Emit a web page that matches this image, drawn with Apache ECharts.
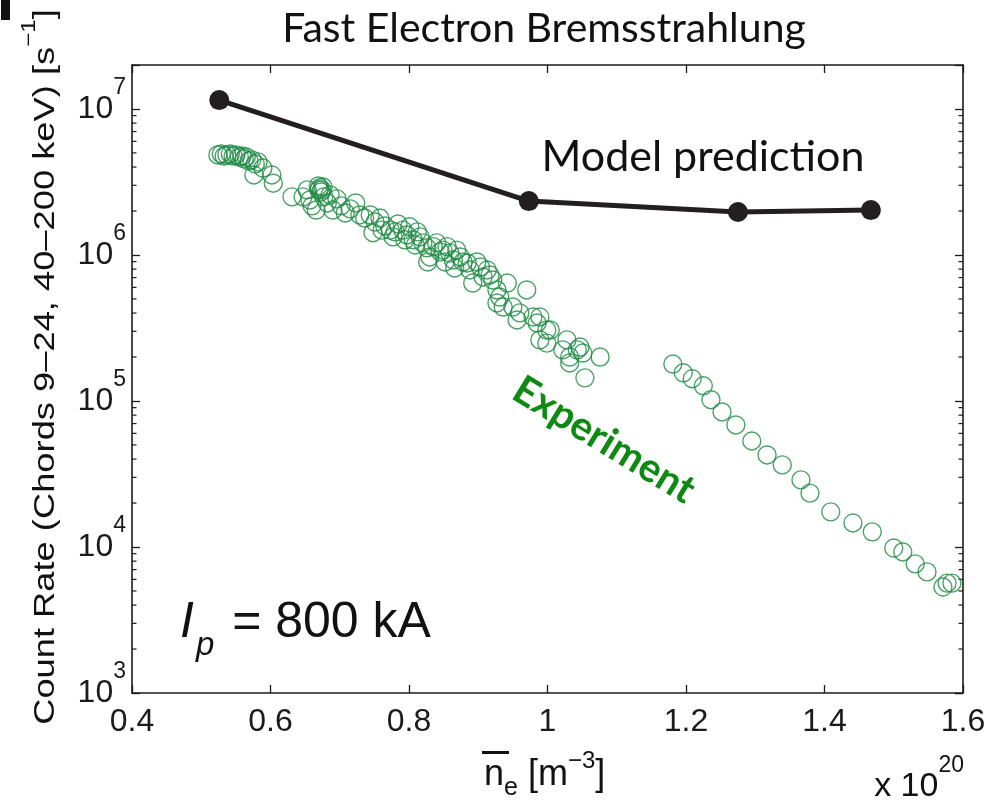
<!DOCTYPE html>
<html>
<head>
<meta charset="utf-8">
<script src="https://cdn.jsdelivr.net/npm/echarts@6/dist/echarts.min.js"></script>
<style>
  html, body { margin: 0; padding: 0; background: #fff; }
  #chart { width: 992px; height: 803px; }
</style>
</head>
<body>
<div id="chart"></div>
<script>
// Line-averaged density (units of 1e20 m^-3) and measured count rate [1/s]
const expDensity = [
  0.524, 0.529, 0.533, 0.537, 0.542, 0.546, 0.550, 0.555, 0.559, 0.562,
  0.565, 0.569, 0.573, 0.578, 0.582, 0.589, 0.576, 0.602, 0.604,
  0.631,
  0.669, 0.671, 0.674, 0.673, 0.670, 0.676, 0.653, 0.647, 0.657, 0.660,
  0.666, 0.677, 0.682, 0.686, 0.690, 0.696, 0.702, 0.708, 0.715, 0.723,
  0.729, 0.736,
  0.744, 0.751, 0.748, 0.758, 0.765, 0.773, 0.777, 0.784, 0.791, 0.797,
  0.801, 0.806, 0.812, 0.816, 0.820, 0.826, 0.830, 0.827, 0.835, 0.840,
  0.845, 0.849, 0.855, 0.859, 0.864, 0.869, 0.874, 0.878, 0.884, 0.888,
  0.892, 0.898, 0.903, 0.907, 0.913, 0.917, 0.921, 0.927, 0.931, 0.942,
  0.927, 0.936, 0.950, 0.956, 0.970, 0.960, 0.979, 0.985, 0.989, 0.999,
  0.989, 0.999, 1.004, 1.028, 1.022, 1.032, 1.047, 1.051, 1.032, 1.076,
  1.054, 1.043, 0.866, 0.852, 0.780, 0.794, 0.809, 0.761,
  1.181, 1.196, 1.209, 1.225, 1.236, 1.252, 1.272, 1.295, 1.317, 1.339,
  1.366, 1.379, 1.409, 1.441, 1.469, 1.500, 1.513, 1.531, 1.548, 1.571,
  1.577, 1.584
];
const expRate = [
  4.84e6, 4.92e6, 4.76e6, 4.84e6, 4.92e6, 4.76e6, 4.84e6, 4.69e6, 4.76e6, 4.55e6,
  4.69e6, 4.41e6, 4.48e6, 4.20e6, 4.34e6, 3.94e6, 3.53e6, 3.53e6, 3.10e6,
  2.50e6,
  2.97e6, 2.88e6, 2.79e6, 2.70e6, 2.79e6, 2.92e6, 2.79e6, 2.50e6, 2.38e6, 2.17e6,
  2.03e6, 2.50e6, 2.27e6, 2.58e6, 2.03e6, 2.42e6, 2.17e6, 1.94e6, 2.07e6, 2.27e6,
  1.88e6, 1.79e6,
  1.88e6, 1.68e6, 1.42e6, 1.79e6, 1.58e6, 1.48e6, 1.33e6, 1.63e6, 1.48e6, 1.37e6,
  1.56e6, 1.27e6, 1.44e6, 1.33e6, 1.21e6, 1.12e6, 9.69e5, 8.96e5, 1.14e6, 1.21e6,
  1.05e6, 1.08e6, 1.14e6, 1.03e6, 9.24e5, 1.08e6, 9.69e5, 8.96e5, 8.82e5, 7.89e5,
  6.42e5, 8.96e5, 8.28e5, 7.07e5, 7.89e5, 7.29e5, 6.74e5, 5.76e5, 5.15e5, 6.42e5,
  4.69e5, 4.40e5, 4.40e5, 3.59e5, 5.76e5, 4.01e5, 3.76e5, 3.42e5, 3.76e5, 3.06e5,
  2.62e5, 2.49e5, 3.06e5, 2.62e5, 2.24e5, 2.00e5, 2.34e5, 2.13e5, 1.82e5, 2.00e5,
  1.44e5, 2.24e5, 8.15e5, 8.96e5, 1.44e6, 1.27e6, 1.17e6, 1.48e6,
  1.79e5, 1.56e5, 1.42e5, 1.27e5, 1.02e5, 8.41e4, 6.85e4, 5.32e4, 4.27e4, 3.65e4,
  2.88e4, 2.34e4, 1.74e4, 1.46e4, 1.27e4, 9.84e3, 9.25e3, 7.66e3, 6.75e3, 5.32e3,
  5.66e3, 5.66e3
];

// Model prediction
const modelDensity = [0.526, 0.973, 1.275, 1.467];
const modelRate = [1.15e7, 2.34e6, 1.97e6, 2.03e6];

// Axis ranges and ticks
const xMin = 0.4, xMax = 1.6, xStep = 0.2;
const yMin = 1e3, yMax = 2e7;
const yMinorTicks = [];
for (let e = 3; e <= 7; e++) {
  for (let k = 2; k <= 9; k++) {
    const v = k * Math.pow(10, e);
    if (v < yMax) yMinorTicks.push(v);
  }
}

const INK = '#1c1a1b';
const GREEN = '#1d8a42';
const SANS = 'Liberation Sans, Arial, Helvetica, sans-serif';
const GEO = 'Lato, Noto Sans, sans-serif';

const chart = echarts.init(document.getElementById('chart'), null, { renderer: 'canvas' });

const supLabel = function (v) {
  const e = Math.round(Math.log10(v));
  if (Math.abs(Math.pow(10, e) - v) / v > 1e-6) return '';
  return '{b|10}{s|' + e + '}';
};

const option = {
  animation: false,
  backgroundColor: '#fff',
  grid: { left: 132, right: 29, top: 65, bottom: 110 },
  xAxis: [
    {
      type: 'value', min: xMin, max: xMax, interval: xStep, position: 'bottom',
      axisLine: { show: true, onZero: false, lineStyle: { color: INK, width: 1.6 } },
      axisTick: { show: true, inside: true, length: 8, lineStyle: { color: INK, width: 1.3 } },
      axisLabel: { color: INK, fontFamily: SANS, fontSize: 32, margin: 13 },
      splitLine: { show: false }
    },
    {
      type: 'value', min: xMin, max: xMax, interval: xStep, position: 'top',
      axisLine: { show: true, onZero: false, lineStyle: { color: INK, width: 1.6 } },
      axisTick: { show: true, inside: true, length: 8, lineStyle: { color: INK, width: 1.3 } },
      axisLabel: { show: false },
      splitLine: { show: false }
    }
  ],
  yAxis: [
    {
      type: 'log', logBase: 10, min: yMin, max: yMax, position: 'left',
      axisLine: { show: true, onZero: false, lineStyle: { color: INK, width: 1.6 } },
      axisTick: { show: true, inside: true, length: 8, lineStyle: { color: INK, width: 1.3 } },
      axisLabel: {
        color: INK, margin: 6, formatter: supLabel,
        rich: {
          b: { fontFamily: SANS, fontSize: 32, color: INK, verticalAlign: 'bottom', padding: [17, 0, 17, 0] },
          s: { fontFamily: SANS, fontSize: 23, color: INK, verticalAlign: 'top' }
        }
      },
      splitLine: { show: false },
      minorTick: { show: false }
    },
    {
      type: 'log', logBase: 10, min: yMin, max: yMax, position: 'right',
      axisLine: { show: true, onZero: false, lineStyle: { color: INK, width: 1.6 } },
      axisTick: { show: true, inside: true, length: 8, lineStyle: { color: INK, width: 1.3 } },
      axisLabel: { show: false },
      splitLine: { show: false }
    }
  ],
  series: [
    {
      // minor log ticks on the left and right frame
      type: 'custom',
      xAxisIndex: 0, yAxisIndex: 0,
      silent: true,
      data: yMinorTicks.map(v => [xMin, v]),
      encode: { x: 0, y: 1 },
      renderItem: function (params, api) {
        const v = api.value(1);
        const pL = api.coord([xMin, v]);
        const pR = api.coord([xMax, v]);
        const style = { stroke: INK, lineWidth: 1.2 };
        return {
          type: 'group',
          children: [
            { type: 'line', shape: { x1: pL[0], y1: pL[1], x2: pL[0] + 4.5, y2: pL[1] }, style: style },
            { type: 'line', shape: { x1: pR[0], y1: pR[1], x2: pR[0] - 4.5, y2: pR[1] }, style: style }
          ]
        };
      },
      z: 1
    },
    {
      name: 'Experiment',
      type: 'scatter',
      data: expDensity.map((x, i) => [x, expRate[i]]),
      symbol: 'circle',
      symbolSize: 18,
      itemStyle: { color: 'rgba(0,0,0,0)', borderColor: GREEN, borderWidth: 1.4 },
      z: 2
    },
    {
      name: 'Model prediction',
      type: 'line',
      data: modelDensity.map((x, i) => [x, modelRate[i]]),
      symbol: 'circle',
      symbolSize: 20,
      lineStyle: { color: '#231f20', width: 5 },
      itemStyle: { color: '#231f20' },
      z: 3
    }
  ],
  graphic: [
    { type: 'rect', left: 1, top: 0, shape: { width: 9, height: 20 }, style: { fill: '#111' } },
    {
      type: 'text', x: 544, y: 29,
      style: { text: 'Fast Electron Bremsstrahlung', fontFamily: GEO, fontSize: 41, fill: '#111',
               align: 'center', verticalAlign: 'middle' }
    },
    {
      type: 'text', x: 703, y: 157,
      style: { text: 'Model prediction', fontFamily: GEO, fontSize: 43, fill: '#111',
               align: 'center', verticalAlign: 'middle' }
    },
    {
      type: 'text', x: 604, y: 440, rotation: -0.55,
      style: { text: 'Experiment', fontFamily: GEO, fontSize: 40, fontWeight: 'bold', fill: '#0e8a12',
               align: 'center', verticalAlign: 'middle' }
    },
    {
      type: 'text', x: 180, y: 630,
      style: {
        text: '{i|I}{p|p}{n| = 800 kA}',
        align: 'left', verticalAlign: 'middle',
        rich: {
          i: { fontFamily: SANS, fontStyle: 'italic', fontSize: 50, fill: '#111', verticalAlign: 'top', padding: [0, 2, 14, 0] },
          p: { fontFamily: SANS, fontStyle: 'italic', fontSize: 33, fill: '#111', verticalAlign: 'bottom', padding: [0, 4, 0, 0] },
          n: { fontFamily: SANS, fontSize: 50, fill: '#111', verticalAlign: 'top', padding: [0, 0, 14, 0] }
        }
      }
    },
    {
      type: 'text', x: 40, y: 367, rotation: Math.PI / 2, scaleX: 1.21,
      style: {
        text: '{a|Count Rate (Chords 9–24, 40–200 keV) [s}{s|−1}{a|]}',
        align: 'center', verticalAlign: 'middle',
        rich: {
          a: { fontFamily: SANS, fontSize: 30, fill: '#111', verticalAlign: 'bottom', padding: [12, 0, 0, 0] },
          s: { fontFamily: SANS, fontSize: 20, fill: '#111', verticalAlign: 'top' }
        }
      }
    },
    {
      type: 'text', x: 484, y: 775,
      style: {
        text: '{a|n}{e|e}{a| [m}{s|−3}{a|]}',
        align: 'left', verticalAlign: 'middle',
        rich: {
          a: { fontFamily: SANS, fontSize: 36, fill: '#111', verticalAlign: 'middle' },
          e: { fontFamily: SANS, fontSize: 25, fill: '#111', verticalAlign: 'bottom', padding: [26, 0, 0, 0] },
          s: { fontFamily: SANS, fontSize: 24, fill: '#111', verticalAlign: 'top', padding: [0, 0, 26, 0] }
        }
      }
    },
    { type: 'rect', left: 482, top: 751, shape: { width: 27, height: 3 }, style: { fill: '#111' } },
    {
      type: 'text', x: 964, y: 779,
      style: {
        text: '{a|x 10}{s|20}',
        align: 'right', verticalAlign: 'middle',
        rich: {
          a: { fontFamily: SANS, fontSize: 34, fill: '#111', verticalAlign: 'bottom', padding: [16, 0, 0, 0] },
          s: { fontFamily: SANS, fontSize: 23, fill: '#111', verticalAlign: 'top' }
        }
      }
    }
  ]
};

chart.setOption(option);
</script>
</body>
</html>
